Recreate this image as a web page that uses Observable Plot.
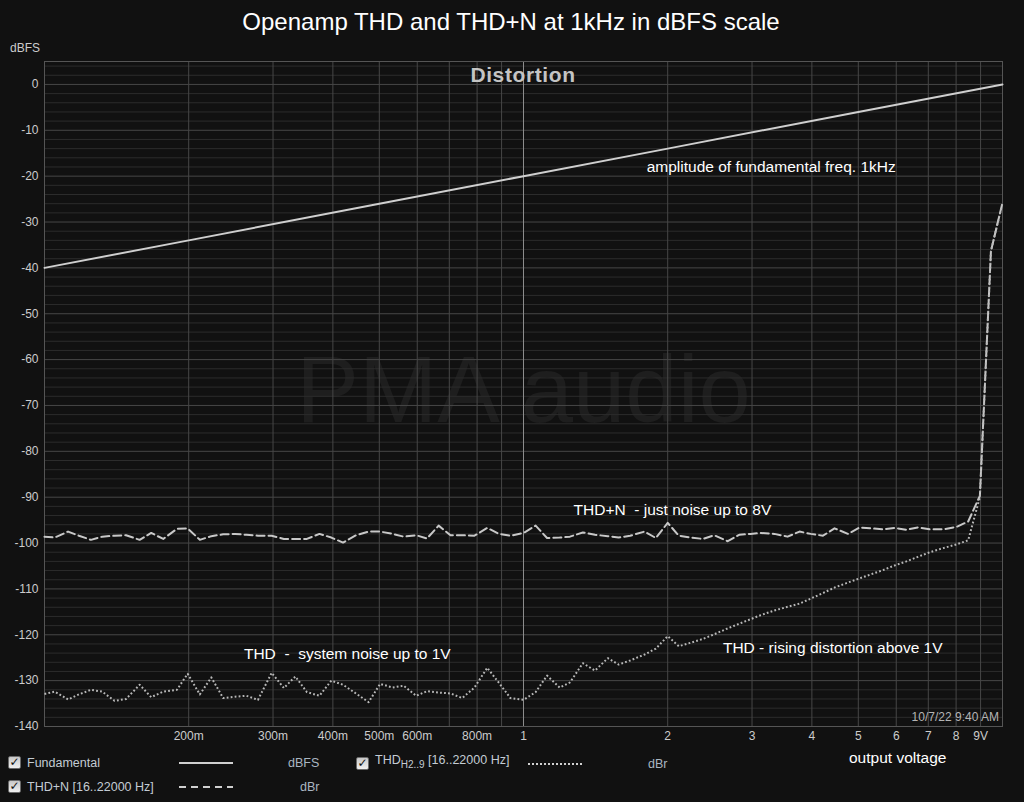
<!DOCTYPE html>
<html><head><meta charset="utf-8">
<script src="https://cdn.jsdelivr.net/npm/d3@7"></script>
<script src="https://cdn.jsdelivr.net/npm/@observablehq/plot@0.6"></script>
<style>
html,body{margin:0;padding:0;background:#111;}
#wrap{position:relative;width:1024px;height:802px;overflow:hidden;font-family:"Liberation Sans",Arial,sans-serif;color:#ccc;background:#111;}
#wrap svg{position:absolute;left:0;top:0;}
.abs{position:absolute;white-space:nowrap;}
.cb{position:absolute;width:11px;height:11px;border:1px solid #6a6a6a;border-radius:2px;background:linear-gradient(#c8c8c8,#f0f0f0);color:#111;font-family:"DejaVu Sans",sans-serif;font-size:12px;font-weight:bold;line-height:11px;text-align:center;}
.lg{font-size:12.5px;color:#c4ccd4;line-height:14px;}
.un{font-size:12.5px;color:#aab6c2;line-height:14px;}
</style></head>
<body><div id="wrap"></div>
<script>
// sweep voltages (V), shared by THD+N and THD
const volts = [0.1,0.105,0.112,0.118,0.125,0.132,0.140,0.148,0.158,0.167,0.177,0.189,0.199,0.211,0.223,0.236,0.250,0.264,0.279,0.298,0.316,0.334,0.353,0.375,0.397,0.420,0.447,0.475,0.502,0.533,0.562,0.597,0.629,0.665,0.704,0.745,0.790,0.840,0.889,0.939,1.0,
  1.06,1.12,1.19,1.25,1.33,1.41,1.50,1.58,1.67,1.79,1.89,2.00,2.11,2.24,2.37,2.50,2.67,2.82,2.98,3.13,3.34,3.56,3.77,3.98,4.22,4.46,4.76,5.03,5.32,5.63,5.95,6.30,6.66,7.05,7.52,8.01,8.48,8.97,9.46,10.0];
const thdnDb = [-98.6,-98.8,-97.5,-98.4,-99.3,-98.6,-98.4,-98.3,-99.3,-97.8,-99.1,-96.9,-96.8,-99.3,-98.5,-98.1,-98.0,-98.2,-98.4,-98.4,-99.1,-99.1,-99.1,-98.0,-98.8,-99.9,-98.3,-97.5,-97.5,-98.0,-98.6,-98.3,-99.0,-96.2,-98.3,-98.3,-98.4,-96.7,-98.0,-98.4,-97.8,
  -96.2,-98.9,-98.8,-98.6,-97.7,-98.2,-98.5,-98.8,-98.4,-97.5,-98.9,-95.6,-98.4,-98.8,-99.1,-98.3,-99.6,-98.2,-98.0,-97.8,-98.0,-98.6,-97.5,-98.0,-98.4,-96.8,-98.0,-96.6,-96.8,-97.0,-96.7,-97.1,-96.6,-97.0,-97.0,-96.5,-95.3,-89.7,-36.3,-25.8];
const thdDb = [-132.9,-132.4,-134.1,-133.0,-132.0,-132.4,-134.4,-134.0,-130.9,-133.6,-132.4,-132.0,-128.5,-133.0,-129.3,-133.8,-133.5,-133.3,-134.2,-128.3,-131.6,-129.1,-132.5,-133.3,-130.0,-130.9,-132.8,-134.7,-130.7,-131.5,-131.1,-133.3,-132.3,-132.6,-132.8,-133.8,-131.5,-127.2,-130.5,-133.8,-134.2,
  -132.5,-128.9,-131.5,-130.4,-126.2,-127.8,-125.1,-126.5,-125.6,-124.3,-123.0,-120.3,-122.5,-121.7,-120.9,-119.9,-118.6,-117.6,-116.6,-115.7,-114.7,-113.9,-113.2,-112.1,-110.9,-109.7,-108.6,-107.7,-106.8,-105.9,-104.9,-104.0,-103.0,-102.0,-101.1,-100.3,-99.4,-90.0,-36.3,-25.8];
const fundV = [0.1,0.2,0.5,1,2,5,10];
const fundDb = [-40,-34,-26,-20,-14,-6,0];

const xTicks = [0.2,0.3,0.4,0.5,0.6,0.8,1,2,3,4,5,6,7,8,9];
const xTickLabels = ["200m","300m","400m","500m","600m","800m","1","2","3","4","5","6","7","8","9V"];
const xGrid = [0.2,0.3,0.4,0.5,0.6,0.7,0.8,0.9,2,3,4,5,6,7,8,9];
const yTicks = [0,-10,-20,-30,-40,-50,-60,-70,-80,-90,-100,-110,-120,-130,-140];
const yTickLabels = ["0","-10","-20","-30","-40","-50","-60","-70","-80","-90","-100","-110","-120","-130","-140"];

const annotations = [
  {v:1.808, db:-18.0, text:"amplitude of fundamental freq. 1kHz"},
  {v:1.272, db:-92.7, text:"THD+N  - just noise up to 8V"},
  {v:0.2608, db:-124.1, text:"THD  -  system noise up to 1V"},
  {v:2.608, db:-122.8, text:"THD - rising distortion above 1V"}
];

const series = volts.map((v,i)=>({v, thdn: thdnDb[i], thd: thdDb[i]}));
const fund = fundV.map((v,i)=>({v, db: fundDb[i]}));
const xLabelData = xTicks.map((v,i)=>({v, label: xTickLabels[i]}));
const yMinor = d3.range(-140, 5, 2).filter(d => d % 10 !== 0);

const chart = Plot.plot({
  width: 1024, height: 802,
  marginLeft: 44, marginRight: 22, marginTop: 61, marginBottom: 76,
  style: {background: "transparent", color: "#cccccc", fontFamily: "'Liberation Sans', Arial, sans-serif", fontSize: "12px", overflow: "visible"},
  x: {type: "log", domain: [0.1, 10], axis: null},
  y: {domain: [-140, 5], ticks: yTicks, tickFormat: d => yTickLabels[yTicks.indexOf(d)], tickSize: 0, tickPadding: 6, label: null},
  marks: [
    Plot.text(["PMA audio"], {x: () => 1, y: () => -67, text: d => d, fontSize: 94, fill: "#1e1e1e", textAnchor: "middle"}),
    Plot.ruleY(yMinor, {stroke: "#2c2c2c"}),
    Plot.ruleY(yTicks, {stroke: "#474747"}),
    Plot.ruleX(xGrid, {stroke: "#474747"}),
    Plot.ruleX([1], {stroke: "#8c8c8c"}),
    Plot.frame({stroke: "#555555"}),
    Plot.text(xLabelData, {x: "v", text: "label", frameAnchor: "bottom", dy: 13, fill: "#cccccc", fontSize: 12}),
    Plot.line(fund, {x: "v", y: "db", stroke: "#cfcfcf", strokeWidth: 2}),
    Plot.line(series, {x: "v", y: "thdn", stroke: "#c8c8c8", strokeWidth: 2, strokeDasharray: "8,4"}),
    Plot.line(series, {x: "v", y: "thd", stroke: "#b8b8b8", strokeWidth: 2, strokeDasharray: "1.8,2.2", strokeLinecap: "butt"}),
    Plot.text(annotations, {x: "v", y: "db", text: "text", textAnchor: "start", fill: "#ffffff", fontSize: 15.5})
  ]
});

const wrap = document.getElementById("wrap");
wrap.appendChild(chart);

function add(html, style, cls) {
  const d = document.createElement("div");
  d.className = "abs" + (cls ? " " + cls : "");
  d.innerHTML = html;
  Object.assign(d.style, style);
  wrap.appendChild(d);
  return d;
}
function sample(left, top, dash) {
  const ns = "http://www.w3.org/2000/svg";
  const s = document.createElementNS(ns, "svg");
  s.setAttribute("width", "56"); s.setAttribute("height", "6");
  s.style.position = "absolute"; s.style.left = left + "px"; s.style.top = top + "px";
  const l = document.createElementNS(ns, "line");
  l.setAttribute("x1", "0"); l.setAttribute("x2", "54"); l.setAttribute("y1", "3"); l.setAttribute("y2", "3");
  l.setAttribute("stroke", "#d0d0d0"); l.setAttribute("stroke-width", "2");
  if (dash) l.setAttribute("stroke-dasharray", dash);
  s.appendChild(l);
  wrap.appendChild(s);
}

add("Openamp THD and THD+N at 1kHz in dBFS scale", {left: "0px", width: "1022px", top: "9px", textAlign: "center", fontSize: "24px", lineHeight: "26px", color: "#ffffff"});
add("Distortion", {left: "423px", width: "200px", top: "63px", textAlign: "center", fontSize: "21px", lineHeight: "24px", fontWeight: "bold", color: "#c4c4c4", letterSpacing: "0.6px"});
add("dBFS", {left: "10px", top: "41px", fontSize: "12px", lineHeight: "14px", color: "#cccccc"});
add("10/7/22 9:40 AM", {right: "25px", top: "710px", fontSize: "12px", lineHeight: "14px", color: "#b4b4b4"});
add("output voltage", {left: "849px", top: "749px", fontSize: "15.5px", lineHeight: "18px", color: "#ffffff"});

// legend
add("✓", {left: "8px", top: "756px"}, "cb");
add("Fundamental", {left: "27px", top: "756px"}, "lg");
sample(179, 760, null);
add("dBFS", {left: "288px", top: "756px"}, "un");
add("✓", {left: "356px", top: "757px"}, "cb");
add("THD<sub style='font-size:10px;vertical-align:-4px'>H2..9</sub> [16..22000 Hz]", {left: "375px", top: "753px"}, "lg");
sample(528, 761, "2,2");
add("dBr", {left: "648px", top: "757px"}, "un");
add("✓", {left: "8px", top: "780px"}, "cb");
add("THD+N [16..22000 Hz]", {left: "27px", top: "780px"}, "lg");
sample(179, 784, "7,5");
add("dBr", {left: "300px", top: "780px"}, "un");
</script>
</body></html>
